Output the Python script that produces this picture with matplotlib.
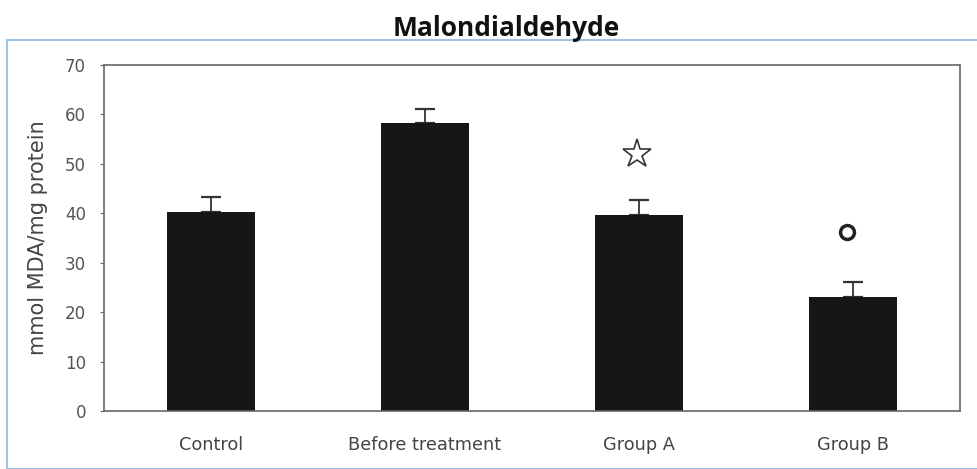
import numpy as np
import matplotlib.pyplot as plt
from matplotlib.patches import Rectangle

# values
groups = ["Control", "Before treatment", "Group A", "Group B"]
mda = [40.2, 58.2, 39.6, 23.0]
sem = [3.1, 2.9, 3.0, 3.0]
star_y = 52.0     # marker above Group A
circle_y = 36.3   # marker above Group B

fig = plt.figure(figsize=(9.77, 4.69), dpi=100)
ax = fig.add_axes([104 / 977, 1 - 411 / 469, 856 / 977, 346 / 469])

x = np.arange(len(groups))
ax.bar(x, mda, width=0.41, color="#161616", zorder=2)
ax.errorbar(x, mda, yerr=[np.zeros(len(sem)), sem], fmt="none",
            ecolor="#333333", elinewidth=1.3, capsize=7.5, capthick=1.6, zorder=1)

ax.plot(x[2] - 0.01, star_y, marker="*", markersize=21, markerfacecolor="white",
        markeredgecolor="#333333", markeredgewidth=1.2, linestyle="none")
ax.plot(x[3] - 0.03, circle_y, marker="o", markersize=10, markerfacecolor="white",
        markeredgecolor="#222222", markeredgewidth=2.5, linestyle="none")

ax.set_xlim(-0.5, 3.5)
ax.set_ylim(0, 70)
ax.set_yticks(np.arange(0, 71, 10))
ax.set_xticks(x)
ax.set_xticklabels(groups, fontsize=12.8, color="#444444", family="DejaVu Sans")
ax.tick_params(axis="y", labelsize=12, labelcolor="#555555", length=3, color="#666666", pad=10)
ax.tick_params(axis="x", length=0, pad=18)
for s in ax.spines.values():
    s.set_color("#666666")
    s.set_linewidth(1.2)
ax.set_ylabel("mmol MDA/mg protein", fontsize=15, color="#444444",
              family="DejaVu Sans")
ax.yaxis.set_label_coords(-(104 - 48) / 856, 0.5)

fig.text(0.518, 1 - 28 / 469, "Malondialdehyde", ha="center", va="center",
         fontsize=19, fontweight="bold", family="Open Sans", color="#111111")

# light blue frame around the chart area
fig.patches.append(Rectangle((7 / 977, 0.0), 975 / 977, 1 - 40 / 469,
                             transform=fig.transFigure, fill=False,
                             edgecolor="#9dc3e6", linewidth=1.5))

fig.savefig("out.png", dpi=100)
